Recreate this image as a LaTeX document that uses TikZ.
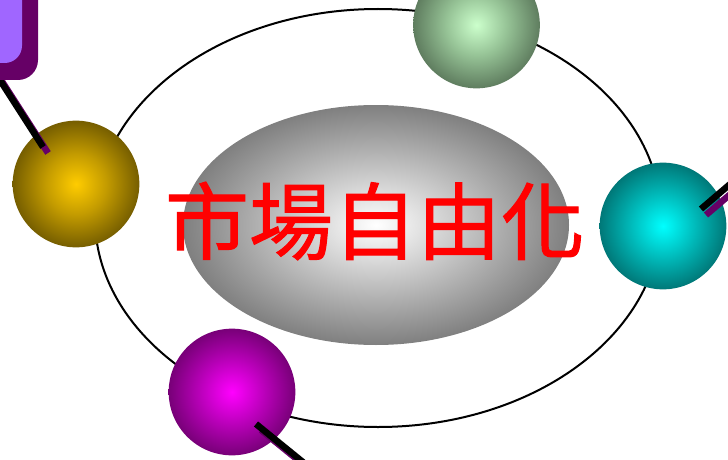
\documentclass[tikz,border=0pt]{standalone}
\usepackage{fontspec}
\newfontfamily\cjk[FakeBold=1.2]{Noto Sans CJK TC}
\usetikzlibrary{shapes.geometric}
\definecolor{rodpurple}{RGB}{102,0,102}
\definecolor{boxdark}{RGB}{102,0,102}
\definecolor{boxlight}{RGB}{160,102,255}
\definecolor{greenin}{RGB}{204,255,204}
\definecolor{greenmid}{RGB}{150,195,150}
\definecolor{greenout}{RGB}{95,125,95}
\definecolor{goldin}{RGB}{255,204,0}
\definecolor{goldmid}{RGB}{195,155,0}
\definecolor{goldout}{RGB}{118,94,0}
\definecolor{cyanin}{RGB}{0,255,255}
\definecolor{cyanmid}{RGB}{0,190,190}
\definecolor{cyanout}{RGB}{0,120,120}
\definecolor{magin}{RGB}{255,0,255}
\definecolor{magmid}{RGB}{190,0,190}
\definecolor{magout}{RGB}{120,0,120}
\pgfdeclareradialshading{greenball}{\pgfpoint{0bp}{0bp}}{color(0bp)=(greenin); color(12bp)=(greenmid); color(25bp)=(greenout); color(50bp)=(greenout)}
\pgfdeclareradialshading{goldball}{\pgfpoint{0bp}{0bp}}{color(0bp)=(goldin); color(12bp)=(goldmid); color(25bp)=(goldout); color(50bp)=(goldout)}
\pgfdeclareradialshading{cyanball}{\pgfpoint{0bp}{0bp}}{color(0bp)=(cyanin); color(12bp)=(cyanmid); color(25bp)=(cyanout); color(50bp)=(cyanout)}
\pgfdeclareradialshading{magball}{\pgfpoint{0bp}{0bp}}{color(0bp)=(magin); color(12bp)=(magmid); color(25bp)=(magout); color(50bp)=(magout)}
\begin{document}
\begin{tikzpicture}[x=0.75pt,y=-0.75pt,
  sphere/.style={circle, minimum size=95pt, inner sep=0pt, shade, shading=#1},
  rod/.style={line width=4.9pt, line cap=butt},
  rodshadow/.style={rod, draw=rodpurple},
  title/.style={text=red, inner sep=0pt, font=\cjk\fontsize{63}{63}\selectfont}]
\useasboundingbox (0,0) rectangle (728,460);
% orbit and core
\node[ellipse, draw, line width=1.5pt, minimum width=424.5pt, minimum height=313.5pt, inner sep=0pt] (orbit) at (378,218) {};
\node[ellipse, inner color=white, outer color=black!50, minimum width=289.5pt, minimum height=180pt, inner sep=0pt] (core) at (376,225) {};
\node[title] (label) at (375,221) {市場自由化};
% spheres
\node[sphere=greenball] (green) at (476.5,25) {};
\node[sphere=goldball] (gold) at (76,184) {};
\node[sphere=cyanball] (cyan) at (663,226) {};
\node[sphere=magball] (magenta) at (232,392) {};
% rods
\coordinate (tlA) at (-20,49);
\coordinate (tlB) at (43,147);
\coordinate (rtA) at (701,209);
\coordinate (rtB) at (770,150);
\coordinate (btA) at (256,424);
\coordinate (btB) at (320,476);
\draw[rodshadow] ([shift={(5,6)}]tlA) -- ([shift={(5,6)}]tlB);
\draw[rodshadow] ([shift={(5,6)}]rtA) -- ([shift={(5,6)}]rtB);
\draw[rodshadow] ([shift={(5,6)}]btA) -- ([shift={(5,6)}]btB);
\draw[rod] (tlA) -- (tlB);
\draw[rod] (rtA) -- (rtB);
\draw[rod] (btA) -- (btB);
% box
\node[rectangle, rounded corners=15pt, fill=boxdark, minimum width=73.5pt, minimum height=105pt, inner sep=0pt] (boxshadow) at (-11,10) {};
\node[rectangle, rounded corners=13pt, fill=boxlight, minimum width=61.5pt, minimum height=92.25pt, inner sep=0pt] (box) at (-19,1.5) {};
\end{tikzpicture}
\end{document}
